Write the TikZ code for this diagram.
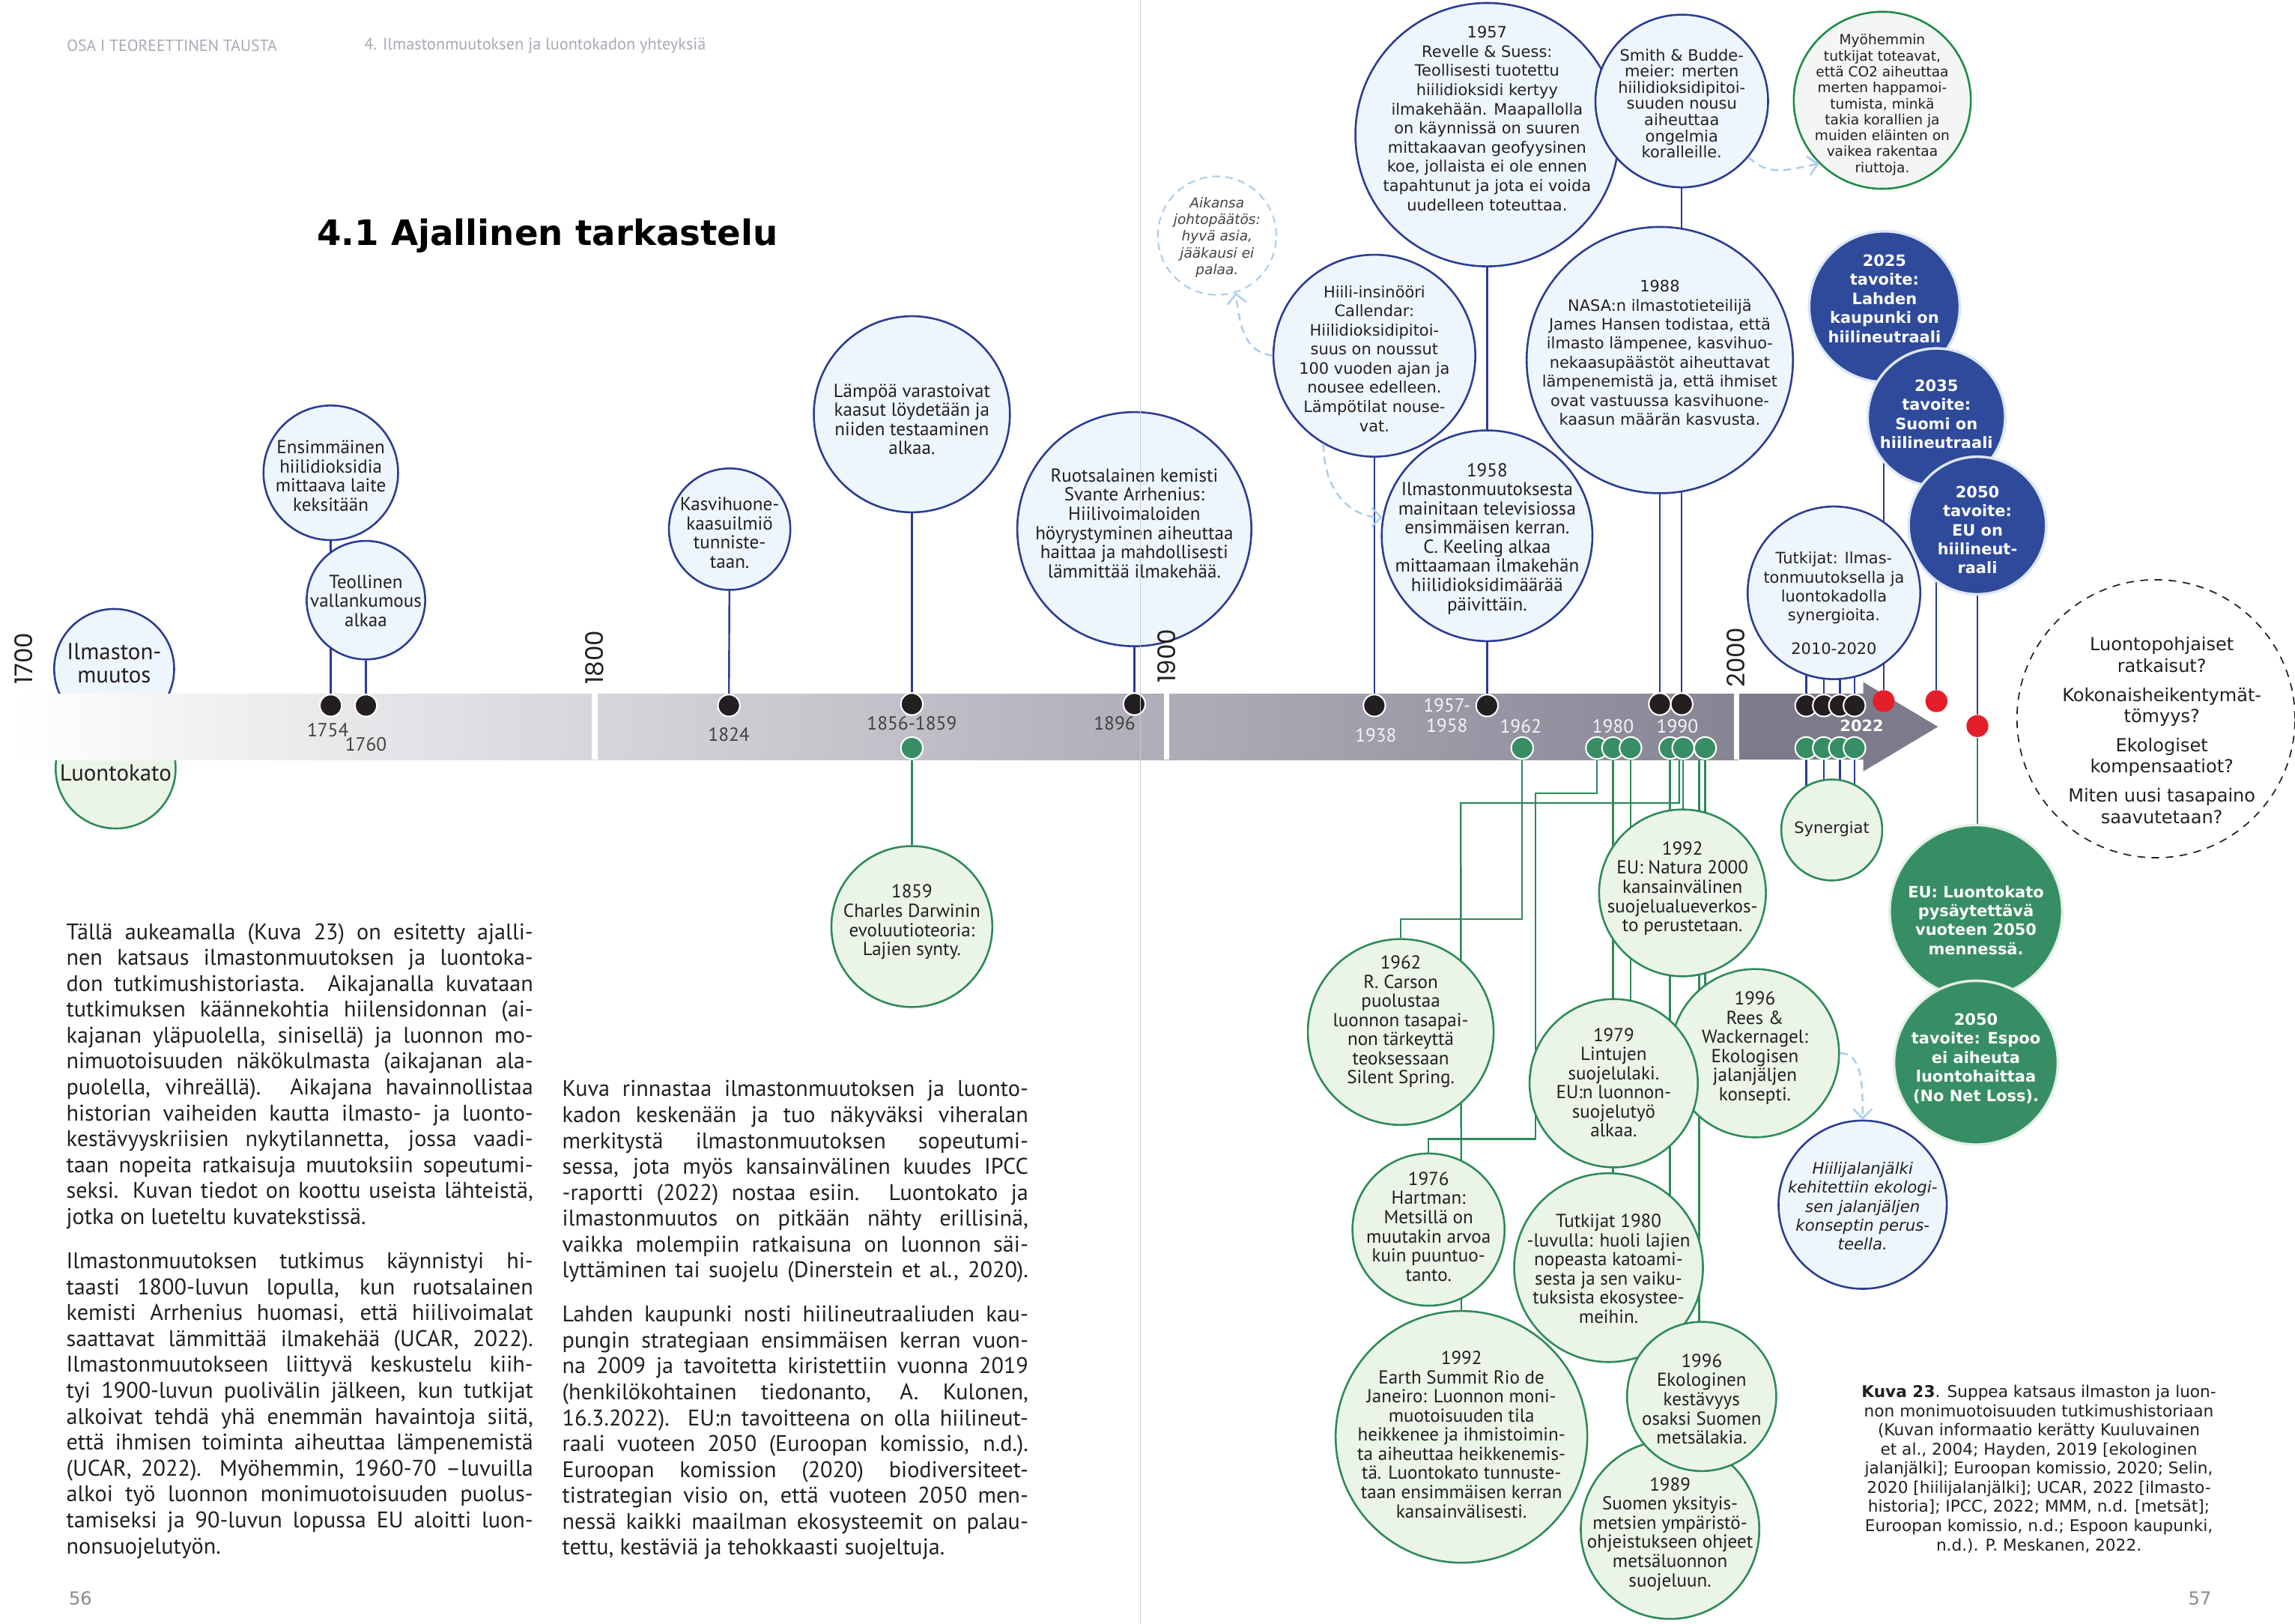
\documentclass[tikz,border=0pt]{standalone}
\usepackage{fontspec}
\setmainfont{PT Sans}
\newfontfamily\wideface{DejaVu Sans}
\newfontfamily\yearface{Poppins}
\usetikzlibrary{arrows.meta, positioning}

\pgfdeclarelayer{background}
\pgfsetlayers{background,main}

\definecolor{inkdark}{HTML}{231F20}
\definecolor{climline}{HTML}{2B3C94}
\definecolor{climfill}{HTML}{EEF6FD}
\definecolor{natline}{HTML}{2E8A58}
\definecolor{natfill}{HTML}{EAF5E8}
\definecolor{goalblue}{HTML}{2F4A9B}
\definecolor{goalrim}{HTML}{DCE6F6}
\definecolor{natdark}{HTML}{388E64}
\definecolor{natrim}{HTML}{E2EFE6}
\definecolor{reddot}{HTML}{E3202A}
\definecolor{hintblue}{HTML}{A9CDEE}
\definecolor{bandgrey}{HTML}{7C7A8B}
\definecolor{headgrey}{HTML}{A8AAB5}
\definecolor{pagerule}{HTML}{CDCDD3}
\definecolor{myohfill}{HTML}{F3F6F4}
\definecolor{myohline}{HTML}{1E8C45}

\newcommand{\jl}[1]{\hbox to\hsize{\strut #1}}
\newcommand{\lastline}[1]{\hbox{\strut #1}}

\begin{document}
\begin{tikzpicture}[x=0.02cm, y=-0.02cm,
    rad/.style={minimum size=#1*0.04cm},
    climate/.style={circle, draw=climline, fill=climfill, line width=0.75pt, inner sep=0pt},
    nature/.style={circle, draw=natline, fill=natfill, line width=0.75pt, inner sep=0pt},
    goal/.style={circle, draw=goalrim, fill=goalblue, line width=1pt, inner sep=0pt},
    natgoal/.style={goal, draw=natrim, fill=natdark},
    musing/.style={circle, draw=hintblue, dash pattern=on 3pt off 2pt, fill=white, line width=0.6pt, inner sep=0pt},
    question/.style={circle, draw=inkdark, dash pattern=on 3pt off 2.5pt, fill=white, line width=0.5pt, inner sep=0pt},
    ctxt/.style={align=center, inner sep=0pt, text=inkdark, font=\fontsize{7.3}{7.45}\selectfont},
    wtxt/.style={align=center, inner sep=0pt, text=inkdark, font=\wideface\fontsize{6.1}{7.45}\selectfont},
    gtxt/.style={align=center, inner sep=0pt, text=white, font=\wideface\bfseries\fontsize{6.1}{7.4}\selectfont},
    bdot/.style={circle, fill=inkdark, draw=white, line width=0.6pt, minimum size=0.3cm, inner sep=0pt},
    gdot/.style={bdot, fill=natdark},
    rdot/.style={circle, fill=reddot, minimum size=0.3cm, inner sep=0pt},
    yrbig/.style={rotate=90, anchor=west, inner sep=0pt, text=inkdark, font=\yearface\fontsize{9.5}{10}\selectfont},
    yrdark/.style={inner sep=0pt, text=inkdark!85, font=\fontsize{7.4}{7.65}\selectfont},
    yrlight/.style={yrdark, text=white!92!bandgrey, align=center},
    bline/.style={draw=climline, line width=0.7pt},
    gline/.style={draw=natline, line width=0.7pt},
    hint/.style={draw=hintblue, line width=0.7pt, dash pattern=on 3pt off 2pt, -{Straight Barb[length=1.3mm, width=2.6mm]}},
    bodytext/.style={anchor=north west, inner sep=0pt, text=inkdark, font=\fontsize{8.8}{10.07}\selectfont}
]
\begin{pgfonlayer}{background}
\fill[white] (0,0) rectangle (1568,1109);
\end{pgfonlayer}
\useasboundingbox (0,0) rectangle (1568,1109);

\node[anchor=west, inner sep=0pt, text=headgrey, font=\fontsize{6.3}{7}\selectfont] (head1) at (45.4,31) {OSA I TEOREETTINEN TAUSTA};
\node[anchor=west, inner sep=0pt, text=headgrey, font=\fontsize{6.5}{7}\selectfont] (head2) at (248.5,31) {4. Ilmastonmuutoksen ja luontokadon yhteyksiä};
\node[inner sep=0pt, text=black, font=\wideface\bfseries\fontsize{13.6}{15}\selectfont] (title) at (374,161) {4.1 Ajallinen tarkastelu};

\node[climate, rad=41] (ilmasto) at (78,457) {};
\node[ctxt, font=\fontsize{9}{9.2}\selectfont] (ilmastot) at (78,453) {Ilmaston-\\muutos};
\node[nature, rad=41] (luonto) at (79,525) {};

\node[climate, rad=46] (c1754) at (226,323) {};
\node[ctxt] (t1754) at (226,325) {Ensimmäinen\\hiilidioksidia\\mittaava laite\\keksitään};
\node[climate, rad=40.5] (c1760) at (250,410) {};
\node[ctxt] (t1760) at (250,410.5) {Teollinen\\vallankumous\\alkaa};
\node[climate, rad=41.5] (c1824) at (498.5,361.5) {};
\node[ctxt] (t1824) at (498.5,364) {Kasvihuone-\\kaasuilmiö\\tunniste-\\taan.};
\node[climate, rad=67] (c1856) at (623,283) {};
\node[ctxt] (t1856) at (623,286.5) {Lämpöä varastoivat\\kaasut löydetään ja\\niiden testaaminen\\alkaa.};
\node[climate, rad=80] (c1896) at (775,361.5) {};
\node[ctxt] (t1896) at (775,357.5) {Ruotsalainen kemisti\\Svante Arrhenius:\\Hiilivoimaloiden\\höyrystyminen aiheuttaa\\haittaa ja mahdollisesti\\lämmittää ilmakehää.};

\node[musing, rad=40.5] (aikansa) at (831.5,161) {};
\node[wtxt, text=inkdark!85, font=\wideface\itshape\fontsize{5.4}{6.5}\selectfont] (taikansa) at (831.5,162) {Aikansa\\johtopäätös:\\hyvä asia,\\jääkausi ei\\palaa.};
\node[climate, rad=69] (callendar) at (939,243) {};
\node[wtxt] (tcallendar) at (939,245) {Hiili-insinööri\\Callendar:\\Hiilidioksidipitoi-\\suus on noussut\\100 vuoden ajan ja\\nousee edelleen.\\Lämpötilat nouse-\\vat.};
\node[climate, rad=90] (revelle) at (1016,92) {};
\node[wtxt] (trevelle) at (1016,81) {1957\\Revelle \& Suess:\\Teollisesti tuotettu\\hiilidioksidi kertyy\\ilmakehään. Maapallolla\\on käynnissä on suuren\\mittakaavan geofyysinen\\koe, jollaista ei ole ennen\\tapahtunut ja jota ei voida\\uudelleen toteuttaa.};
\node[climate, rad=72] (c1958) at (1016,366) {};
\node[ctxt] (t1958) at (1016,368) {1958\\Ilmastonmuutoksesta\\mainitaan televisiossa\\ensimmäisen kerran.\\C. Keeling alkaa\\mittaamaan ilmakehän\\hiilidioksidimäärää\\päivittäin.};
\node[climate, rad=59] (smith) at (1149,69) {};
\node[wtxt, font=\wideface\fontsize{6.1}{6.3}\selectfont] (tsmith) at (1149,70.7) {Smith \& Budde-\\meier: merten\\hiilidioksidipitoi-\\suuden nousu\\aiheuttaa\\ongelmia\\koralleille.};
\node[climate, rad=91] (hansen) at (1134,246) {};
\node[wtxt, font=\wideface\fontsize{6.1}{7.4}\selectfont] (thansen) at (1134,241) {1988\\NASA:n ilmastotieteilijä\\James Hansen todistaa, että\\ilmasto lämpenee, kasvihuo-\\nekaasupäästöt aiheuttavat\\lämpenemistä ja, että ihmiset\\ovat vastuussa kasvihuone-\\kaasun määrän kasvusta.};
\node[circle, draw=myohline, fill=myohfill, line width=0.75pt, inner sep=0pt, rad=60.5] (myoh) at (1286,68.5) {};
\node[wtxt, font=\wideface\fontsize{5.4}{6.2}\selectfont] (tmyoh) at (1286,71.6) {Myöhemmin\\tutkijat toteavat,\\että CO2 aiheuttaa\\merten happamoi-\\tumista, minkä\\takia korallien ja\\muiden eläinten on\\vaikea rakentaa\\riuttoja.};
\node[climate, rad=59] (tutkijat) at (1253,405) {};
\node[wtxt, font=\wideface\fontsize{6.1}{7.4}\selectfont] (ttutkijat) at (1253,412) {Tutkijat: Ilmas-\\tonmuutoksella ja\\luontokadolla\\synergioita.\\[5.5pt]2010-2020};

\node[goal, rad=51.5] (g2025) at (1287.5,209.5) {};
\node[gtxt] (t2025) at (1287.5,204) {2025\\tavoite:\\Lahden\\kaupunki on\\hiilineutraali};
\node[goal, rad=47] (g2035) at (1323,285) {};
\node[gtxt] (t2035) at (1323,283) {2035\\tavoite:\\Suomi on\\hiilineutraali};
\node[goal, rad=47] (g2050) at (1351,359) {};
\node[gtxt] (t2050) at (1351,362) {2050\\tavoite:\\EU on\\hiilineut-\\raali};

\node[question, rad=95] (questions) at (1473,491) {};
\node[wtxt, font=\wideface\fontsize{7}{8.3}\selectfont] (tquestions) at (1477,499) {Luontopohjaiset\\ratkaisut?\\[3pt]Kokonaisheikentymät-\\tömyys?\\[3pt]Ekologiset\\kompensaatiot?\\[3pt]Miten uusi tasapaino\\saavutetaan?};

\node[nature, rad=55] (darwin) at (623,633) {};
\node[ctxt] (tdarwin) at (623,630) {1859\\Charles Darwinin\\evoluutioteoria:\\Lajien synty.};
\node[nature, rad=34.5] (synergiat) at (1251.5,567) {};
\node[wtxt] (tsynergiat) at (1251.5,566.3) {Synergiat};
\node[natgoal, rad=59] (euloss) at (1350,622.6) {};
\node[gtxt] (teuloss) at (1350,628.6) {EU: Luontokato\\pysäytettävä\\vuoteen 2050\\mennessä.};
\node[natgoal, rad=56] (espoo) at (1350,726) {};
\node[gtxt] (tespoo) at (1350,723) {2050\\tavoite: Espoo\\ei aiheuta\\luontohaittaa\\(No Net Loss).};
\node[climate, rad=57.5] (hiili) at (1272.6,823) {};
\node[wtxt, font=\wideface\itshape\fontsize{6.2}{7.4}\selectfont] (thiili) at (1272.6,824) {Hiilijalanjälki\\kehitettiin ekologi-\\sen jalanjäljen\\konseptin perus-\\teella.};

\node[nature, rad=63.5] (carson) at (957,705) {};
\node[ctxt] (tcarson) at (957,698) {1962\\R. Carson\\puolustaa\\luonnon tasapai-\\non tärkeyttä\\teoksessaan\\Silent Spring.};
\node[nature, rad=57] (natura) at (1149.5,610) {};
\node[ctxt] (tnatura) at (1149.5,607) {1992\\EU: Natura 2000\\kansainvälinen\\suojelualueverkos-\\to perustetaan.};
\node[nature, rad=57.5] (rees) at (1199,719.5) {};
\node[ctxt] (trees) at (1199,716) {1996\\Rees \&\\Wackernagel:\\Ekologisen\\jalanjäljen\\konsepti.};
\node[nature, rad=57.5] (c1979) at (1102.5,740) {};
\node[ctxt] (t1979) at (1102.5,739.6) {1979\\Lintujen\\suojelulaki.\\EU:n luonnon-\\suojelutyö\\alkaa.};
\node[nature, rad=52] (hartman) at (976,840) {};
\node[ctxt] (thartman) at (976,838) {1976\\Hartman:\\Metsillä on\\muutakin arvoa\\kuin puuntuo-\\tanto.};
\node[nature, rad=64.5] (tutk80) at (1099,866) {};
\node[ctxt] (ttutk80) at (1099,866.8) {Tutkijat 1980\\-luvulla: huoli lajien\\nopeasta katoami-\\sesta ja sen vaiku-\\tuksista ekosystee-\\meihin.};
\node[nature, rad=86] (earth) at (998.5,981.6) {};
\node[ctxt] (tearth) at (998.5,980) {1992\\Earth Summit Rio de\\Janeiro: Luonnon moni-\\muotoisuuden tila\\heikkenee ja ihmistoimin-\\ta aiheuttaa heikkenemis-\\tä. Luontokato tunnuste-\\taan ensimmäisen kerran\\kansainvälisesti.};
\node[nature, rad=61] (c1989) at (1141,1045) {};
\node[ctxt] (t1989) at (1141,1048) {1989\\Suomen yksityis-\\metsien ympäristö-\\ohjeistukseen ohjeet\\metsäluonnon\\suojeluun.};
\node[nature, rad=51] (ekol) at (1162.6,954) {};
\node[ctxt] (tekol) at (1162.6,955.8) {1996\\Ekologinen\\kestävyys\\osaksi Suomen\\metsälakia.};

\shade[left color=white, right color=bandgrey!92!white] (8,474) rectangle (1188,519);
\fill[bandgrey] (1188,474) rectangle (1273,519);
\fill[bandgrey] (1273,466) -- (1324,496.5) -- (1273,527) -- cycle;
\fill[white] (404.5,474) rectangle (408.5,519);
\fill[white] (795,474) rectangle (799,519);
\fill[white] (1184.5,474) rectangle (1188.5,519);
\node[ctxt, font=\fontsize{9}{9.2}\selectfont] (luontot) at (79,528) {Luontokato};

\node[yrbig] (y1700) at (16,468) {1700};
\node[yrbig] (y1800) at (406.5,468) {1800};
\node[yrbig] (y1900) at (797,467) {1900};
\node[yrbig] (y2000) at (1186,470) {2000};

\node[yrdark] (l1754) at (224,498.5) {1754};
\node[yrdark] (l1760) at (250,508.6) {1760};
\node[yrdark] (l1824) at (498,502) {1824};
\node[yrdark] (l1856) at (623,494) {1856-1859};
\node[yrdark] (l1896) at (761.5,494) {1896};
\node[yrlight] (l1938) at (940,502.4) {1938};
\node[yrlight] (l1957) at (988.6,488.7) {1957-\\1958};
\node[yrlight] (l1962) at (1039,496.4) {1962};
\node[yrlight] (l1980) at (1102,496) {1980};
\node[yrlight] (l1990) at (1146,496) {1990};
\node[inner sep=0pt, text=white, font=\wideface\bfseries\fontsize{6.1}{7}\selectfont] (l2022) at (1272,496) {2022};

\node[bdot] (d1754) at (226,482) {};
\node[bdot] (d1760) at (250,482) {};
\node[bdot] (d1824) at (498,482) {};
\node[bdot] (d1856) at (623,481) {};
\node[bdot] (d1896) at (775,481) {};
\node[bdot] (d1938) at (939,482) {};
\node[bdot] (d1957) at (1016,482) {};
\node[bdot] (d1988) at (1134,481) {};
\node[bdot] (d1990) at (1149,481) {};
\node[bdot] (d2010a) at (1234,482) {};
\node[bdot] (d2010b) at (1246,482) {};
\node[bdot] (d2010c) at (1257,482) {};
\node[bdot] (d2010d) at (1267,482) {};
\node[gdot] (g1859) at (623,511) {};
\node[gdot] (g1962) at (1040,511) {};
\node[gdot] (g1980a) at (1091,511) {};
\node[gdot] (g1980b) at (1102,511) {};
\node[gdot] (g1980c) at (1114,511) {};
\node[gdot] (g1990a) at (1141,511) {};
\node[gdot] (g1990b) at (1150,511) {};
\node[gdot] (g1990c) at (1165,511) {};
\node[gdot] (s2022a) at (1234,511) {};
\node[gdot] (s2022b) at (1246,511) {};
\node[gdot] (s2022c) at (1257,511) {};
\node[gdot] (s2022d) at (1267,511) {};
\node[rdot] (red1) at (1287,479) {};
\node[rdot] (red2) at (1323,479) {};
\node[rdot] (red3) at (1351,496) {};

\begin{pgfonlayer}{background}
\draw[bline] (c1754) -- (d1754);
\draw[bline] (c1760) -- (d1760);
\draw[bline] (c1824) -- (d1824);
\draw[bline] (c1856) -- (d1856);
\draw[bline] (c1896) -- (d1896);
\draw[bline] (callendar) -- (d1938);
\draw[bline] (revelle) -- (d1957);
\draw[bline] (hansen) -- (d1988);
\draw[bline] (smith) -- (d1990);
\foreach \dotname in {d2010a,d2010b,d2010c,d2010d}
    \draw[bline] (\dotname) -- (\dotname |- tutkijat.center);
\foreach \dotname in {s2022a,s2022b,s2022c,s2022d}
    \draw[bline] (\dotname) -- (\dotname |- synergiat.center);
\draw[bline] (red1) -- (red1 |- g2025.center);
\draw[bline] (red2) -- (red2 |- g2035.center);
\draw[bline] (red3) -- (red3 |- g2050.center);
\draw[gline] (red3) -- (red3 |- euloss.center);
\draw[gline] (g1859) -- (darwin);
\draw[gline] (g1962) |- (957,628) -- (carson);
\draw[gline] (g1980a) |- (1049,542) |- (976,778) -- (hartman);
\draw[gline] (g1980b) -- (g1980b |- tutk80.center);
\draw[gline] (g1980c) -- (g1980c |- c1979.center);
\draw[gline] (g1990a) -- (g1990a |- c1989.center);
\draw[gline] (g1990b) -- (g1990b |- natura.center);
\draw[gline] (g1990b.250) |- (998,548.6) -- (earth);
\draw[gline] (g1990c.240) -- (g1990c.240 |- ekol.center);
\draw[gline] (g1990c) -- (g1990c |- rees.center);
\end{pgfonlayer}

\draw[hint] (callendar.west) .. controls +(-20,-3) and +(3,22) .. (aikansa.-72);
\draw[hint] (callendar.240) .. controls +(0,32) and +(-22,0) .. (c1958.170);
\draw[hint] (smith.-40) .. controls +(14,14) and +(-20,4) .. (myoh.225);
\draw[hint] (rees.east) .. controls +(15,0) and +(0,-25) .. (hiili.north);

\node[bodytext] (para1) at (45,629) {\vbox{\hsize=6.38cm
\jl{Tällä aukeamalla (Kuva 23) on esitetty ajalli-}
\jl{nen katsaus ilmastonmuutoksen ja luontoka-}
\jl{don tutkimushistoriasta. Aikajanalla kuvataan}
\jl{tutkimuksen käännekohtia hiilensidonnan (ai-}
\jl{kajanan yläpuolella, sinisellä) ja luonnon mo-}
\jl{nimuotoisuuden näkökulmasta (aikajanan ala-}
\jl{puolella, vihreällä). Aikajana havainnollistaa}
\jl{historian vaiheiden kautta ilmasto- ja luonto-}
\jl{kestävyyskriisien nykytilannetta, jossa vaadi-}
\jl{taan nopeita ratkaisuja muutoksiin sopeutumi-}
\jl{seksi. Kuvan tiedot on koottu useista lähteistä,}
\lastline{jotka on lueteltu kuvatekstissä.}}};
\node[bodytext] (para2) at (45,854) {\vbox{\hsize=6.38cm
\jl{Ilmastonmuutoksen tutkimus käynnistyi hi-}
\jl{taasti 1800-luvun lopulla, kun ruotsalainen}
\jl{kemisti Arrhenius huomasi, että hiilivoimalat}
\jl{saattavat lämmittää ilmakehää (UCAR, 2022).}
\jl{Ilmastonmuutokseen liittyvä keskustelu kiih-}
\jl{tyi 1900-luvun puolivälin jälkeen, kun tutkijat}
\jl{alkoivat tehdä yhä enemmän havaintoja siitä,}
\jl{että ihmisen toiminta aiheuttaa lämpenemistä}
\jl{(UCAR, 2022). Myöhemmin, 1960-70 –luvuilla}
\jl{alkoi työ luonnon monimuotoisuuden puolus-}
\jl{tamiseksi ja 90-luvun lopussa EU aloitti luon-}
\lastline{nonsuojelutyön.}}};
\node[bodytext] (para3) at (383.8,736.4) {\vbox{\hsize=6.37cm
\jl{Kuva rinnastaa ilmastonmuutoksen ja luonto-}
\jl{kadon keskenään ja tuo näkyväksi viheralan}
\jl{merkitystä ilmastonmuutoksen sopeutumi-}
\jl{sessa, jota myös kansainvälinen kuudes IPCC}
\jl{-raportti (2022) nostaa esiin. Luontokato ja}
\jl{ilmastonmuutos on pitkään nähty erillisinä,}
\jl{vaikka molempiin ratkaisuna on luonnon säi-}
\jl{lyttäminen tai suojelu (Dinerstein et al., 2020).}}};
\node[bodytext] (para4) at (383.8,890.4) {\vbox{\hsize=6.37cm
\jl{Lahden kaupunki nosti hiilineutraaliuden kau-}
\jl{pungin strategiaan ensimmäisen kerran vuon-}
\jl{na 2009 ja tavoitetta kiristettiin vuonna 2019}
\jl{(henkilökohtainen tiedonanto, A. Kulonen,}
\jl{16.3.2022). EU:n tavoitteena on olla hiilineut-}
\jl{raali vuoteen 2050 (Euroopan komissio, n.d.).}
\jl{Euroopan komission (2020) biodiversiteet-}
\jl{tistrategian visio on, että vuoteen 2050 men-}
\jl{nessä kaikki maailman ekosysteemit on palau-}
\lastline{tettu, kestäviä ja tehokkaasti suojeltuja.}}};

\node[wtxt, font=\wideface\fontsize{6.3}{7.45}\selectfont] (caption) at (1393,1003.5) {\textbf{Kuva 23}. Suppea katsaus ilmaston ja luon-\\non monimuotoisuuden tutkimushistoriaan\\(Kuvan informaatio kerätty Kuuluvainen\\et al., 2004; Hayden, 2019 [ekologinen\\jalanjälki]; Euroopan komissio, 2020; Selin,\\2020 [hiilijalanjälki]; UCAR, 2022 [ilmasto-\\historia]; IPCC, 2022; MMM, n.d. [metsät];\\Euroopan komissio, n.d.; Espoon kaupunki,\\n.d.). P. Meskanen, 2022.};

\node[inner sep=0pt, text=headgrey!80!black, font=\wideface\fontsize{7}{8}\selectfont] (pg56) at (55,1092) {56};
\node[inner sep=0pt, text=headgrey!80!black, font=\wideface\fontsize{7}{8}\selectfont] (pg57) at (1503,1092) {57};

\draw[pagerule, line width=0.4pt] (779,0) -- (779,1109);
\end{tikzpicture}
\end{document}
